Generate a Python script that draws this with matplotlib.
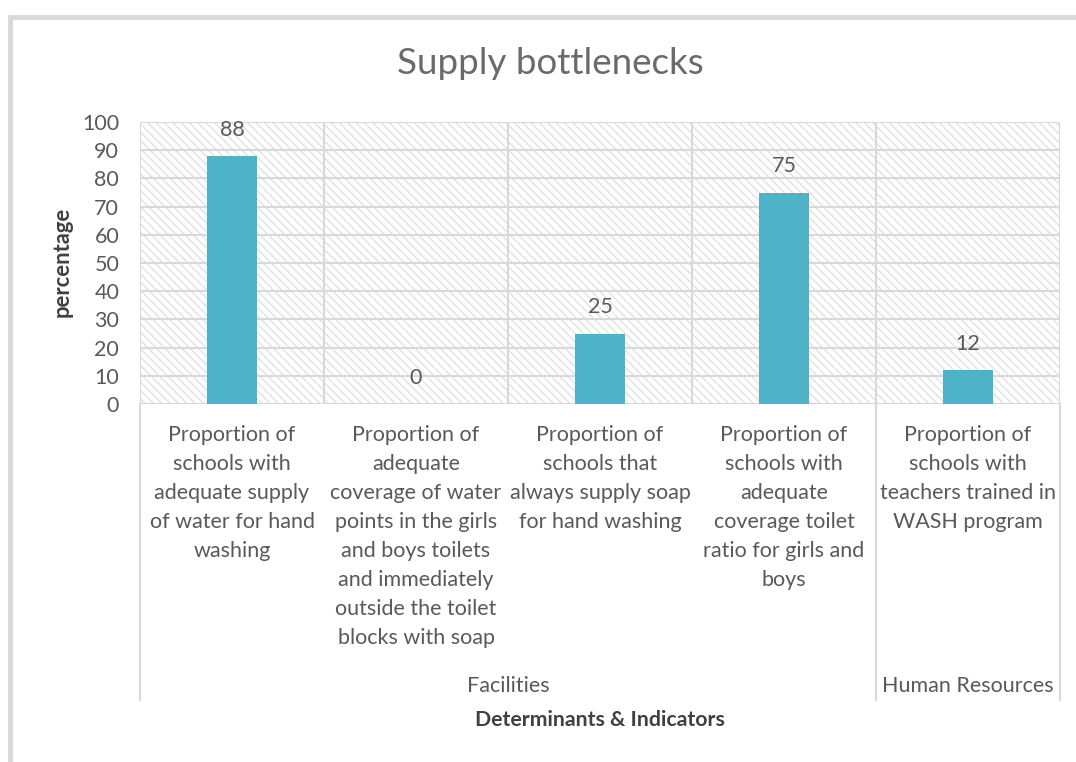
import matplotlib.pyplot as plt
from matplotlib.patches import Rectangle
from matplotlib.lines import Line2D
import matplotlib.transforms as mtransforms

plt.rcParams['font.family'] = ['Lato', 'DejaVu Sans']
plt.rcParams['hatch.color'] = '#DCDCDC'
plt.rcParams['hatch.linewidth'] = 0.8

# chart data
categories = [
    "Proportion of\nschools with\nadequate supply\nof water for hand\nwashing",
    "Proportion of\nadequate\ncoverage of water\npoints in the girls\nand boys toilets\nand immediately\noutside the toilet\nblocks with soap",
    "Proportion of\nschools that\nalways supply soap\nfor hand washing",
    "Proportion of\nschools with\nadequate\ncoverage toilet\nratio for girls and\nboys",
    "Proportion of\nschools with\nteachers trained in\nWASH program",
]
values = [88, 0, 25, 75, 12]
groups = ["Facilities", "Human Resources"]
group_spans = [(0, 3), (4, 4)]
yticks = list(range(0, 101, 10))

text_col = '#595959'
grid_col = '#D9D9D9'
bar_col = '#4EB3C8'
fs = 15.5

fig = plt.figure(figsize=(10.76, 7.62), dpi=100)

# outer chart border
fig.add_artist(Rectangle((10 / 1076, -0.05), 1.1, 1 - 17 / 762 + 0.05,
                         transform=fig.transFigure, fill=False,
                         edgecolor='#D9D9D9', linewidth=3.5))

ax = fig.add_axes([140 / 1076, 1 - 404 / 762, 920 / 1076, 282 / 762])
ax.set_xlim(-0.5, len(categories) - 0.5)
ax.set_ylim(0, 100)

# hatched plot background
ax.add_patch(Rectangle((0, 0), 1, 1, transform=ax.transAxes, facecolor='white',
                       hatch='\\\\\\\\', edgecolor='#DCDCDC', linewidth=0, zorder=0))

for y in yticks:
    ax.axhline(y, color=grid_col, linewidth=1.5, zorder=1)
for i in range(len(categories) + 1):
    ax.axvline(i - 0.5, color=grid_col, linewidth=1.5, zorder=1)

ax.bar(range(len(values)), values, width=0.272, color=bar_col, zorder=2)
for i, v in enumerate(values):
    ax.text(i, v + 9.3, str(v), ha='center', va='center', fontsize=fs,
            color=text_col, zorder=3)

for s in ax.spines.values():
    s.set_visible(False)
ax.set_xticks([])
ax.set_yticks(yticks)
ax.tick_params(axis='y', length=0, pad=15, labelsize=fs, labelcolor=text_col)

trans = mtransforms.blended_transform_factory(ax.transData, fig.transFigure)
for i, lab in enumerate(categories):
    ax.text(i, 1 - 425 / 762, lab, transform=trans, ha='center', va='top',
            fontsize=fs, color=text_col, linespacing=1.56)

# group separators and labels
for x in [-0.5, 3.5, 4.5]:
    ax.add_line(Line2D([x, x], [1 - 404 / 762, 1 - 700 / 762], transform=trans,
                       color=grid_col, linewidth=1.5, clip_on=False))
for g, (a, b) in zip(groups, group_spans):
    ax.text((a + b) / 2, 1 - 686 / 762, g, transform=trans, ha='center',
            va='center', fontsize=fs, color=text_col)

fig.text(600 / 1076, 1 - 720 / 762, "Determinants & Indicators", ha='center',
         va='center', fontsize=15.3, fontweight='bold', color='#404040')
fig.text(62 / 1076, 1 - 262 / 762, "percentage", ha='center', va='center',
         rotation=90, fontsize=15.8, fontweight='bold', color='#404040')
fig.text(550 / 1076, 1 - 64 / 762, "Supply bottlenecks", ha='center',
         va='center', fontsize=26.5, color='#6A6A6A')

fig.savefig('out.png', dpi=100)
